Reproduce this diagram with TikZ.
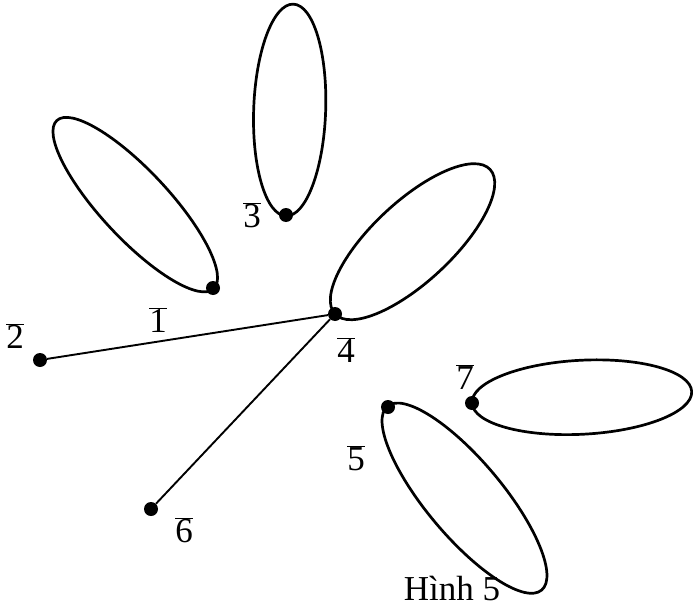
\documentclass[tikz,border=0pt]{standalone}
\usepackage{fontspec}
\setmainfont{Liberation Serif}

\tikzset{
  vdot/.style={circle, fill, inner sep=0pt, minimum size=14pt},
  lbl/.style={font=\fontsize{35}{40}\selectfont, inner sep=0pt},
  petal/.style={line width=2.7pt},
  link/.style={line width=1.9pt},
}
\newcommand{\ov}[1]{$\overline{\hbox{#1}}$}

\begin{document}
\begin{tikzpicture}[x=1pt, y=-1pt]
  \useasboundingbox (0,0) rectangle (693,607);

  \node[vdot] (v1) at (213, 288) {};
  \node[vdot] (v2) at (40, 360) {};
  \node[vdot] (v3) at (286, 215) {};
  \node[vdot] (v4) at (335, 314) {};
  \node[vdot] (v5) at (388, 407) {};
  \node[vdot] (v6) at (151, 509) {};
  \node[vdot] (v7) at (472, 403) {};

  % loops through the vertices
  \begin{scope}[shift={(v1)}, rotate=133]
    \draw[petal] (114,0) ellipse (115 and 34);
  \end{scope}
  \begin{scope}[shift={(v3)}, rotate=88]
    \draw[petal] (105,0) ellipse (106 and 36);
  \end{scope}
  \begin{scope}[shift={(v4)}, rotate=43]
    \draw[petal] (106,0) ellipse (106 and 40);
  \end{scope}
  \begin{scope}[shift={(v5)}, rotate=-50]
    \draw[petal] (119,0) ellipse (120 and 38);
  \end{scope}
  \begin{scope}[shift={(v7)}, rotate=3]
    \draw[petal] (110,0) ellipse (110 and 37);
  \end{scope}

  \draw[link] (v2) -- (v4);
  \draw[link] (v6) -- (v4);

  \node[lbl] (l1) at (158, 320) {\ov{1}};
  \node[lbl] (l2) at (15, 336) {\ov{2}};
  \node[lbl] (l3) at (252, 215) {\ov{3}};
  \node[lbl] (l4) at (346, 350) {\ov{4}};
  \node[lbl] (l5) at (356, 458) {\ov{5}};
  \node[lbl] (l6) at (184, 530) {\ov{6}};
  \node[lbl] (l7) at (465, 377) {\ov{7}};
  \node[lbl] (cap) at (452, 588) {Hình 5};
\end{tikzpicture}
\end{document}
